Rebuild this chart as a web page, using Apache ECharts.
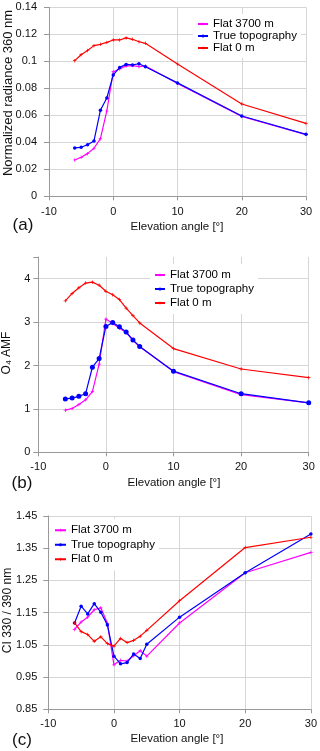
<!DOCTYPE html>
<html><head><meta charset="utf-8">
<script src="https://cdn.jsdelivr.net/npm/echarts@6/dist/echarts.min.js"></script>
<style>html,body{margin:0;padding:0;background:#fff}#c{width:320px;height:751px}</style>
</head><body><div id="c"></div>
<script>
// ---- data ----
const elevation = [-6,-5,-4,-3,-2,-1,0,1,2,3,4,5,10,20,30];
const seriesNames = ['Flat 3700 m','True topography','Flat 0 m'];
const xTicks = [-10, 0, 10, 20, 30];

const radFlat3700 = [0.0269,0.0289,0.0316,0.0356,0.0427,0.0632,0.0923,0.0943,0.0965,0.0968,0.0960,0.0965,0.0835,0.0592,0.0457];
const radTrueTopo = [0.0358,0.0363,0.0382,0.0410,0.0637,0.0728,0.0899,0.0955,0.0977,0.0973,0.0982,0.0960,0.0840,0.0595,0.0459];
const radFlat0    = [0.1005,0.1049,0.1080,0.1116,0.1126,0.1140,0.1158,0.1158,0.1173,0.1163,0.1145,0.1133,0.0980,0.0684,0.0540];

const amfFlat3700 = [0.97,1.01,1.10,1.21,1.40,2.03,3.07,2.97,2.86,2.76,2.58,2.43,1.86,1.33,1.14];
const amfTrueTopo = [1.23,1.25,1.29,1.35,1.96,2.16,2.90,2.99,2.89,2.77,2.59,2.44,1.87,1.35,1.14];
const amfFlat0    = [3.49,3.66,3.79,3.90,3.92,3.85,3.71,3.63,3.52,3.32,3.15,2.98,2.39,1.92,1.72];

const ciFlat3700 = [1.098,1.121,1.136,1.159,1.165,1.117,0.988,1.002,1.000,1.016,1.032,1.015,1.118,1.274,1.337];
const ciTrueTopo = [1.118,1.170,1.146,1.178,1.151,1.112,1.015,0.991,0.995,1.022,1.008,1.052,1.136,1.274,1.394];
const ciFlat0    = [1.118,1.091,1.082,1.061,1.075,1.054,1.046,1.070,1.057,1.064,1.077,1.095,1.187,1.352,1.384];

const radTicks = [0,0.02,0.04,0.06,0.08,0.1,0.12,0.14];
const amfTicks = [0,1,2,3,4];
const ciTicks = [0.85,0.95,1.05,1.15,1.25,1.35,1.45];

// ---- chart ----
const FONT = '"Liberation Sans", Arial, sans-serif';
const AXIS = '#999';
const GRIDC = '#d6d6d6';
const colors = ['#ff00ff','#0000ff','#ff0000'];
const plus = 'path://M0,2 L5,2 L5,3 L0,3 Z M2,0 L3,0 L3,5 L2,5 Z';

function pairs(ys){ return elevation.map((x,i)=>[x, ys[i]]); }

function xAx(gi, margin){
  return {gridIndex:gi, type:'value', min:xTicks[0], max:xTicks[xTicks.length-1], interval:xTicks[1]-xTicks[0],
    axisLine:{show:true,onZero:false,lineStyle:{color:AXIS,width:1}},
    axisTick:{show:true,length:4,lineStyle:{color:AXIS}},
    axisLabel:{margin:margin,fontSize:11,color:'#111',fontFamily:FONT},
    splitLine:{show:true,lineStyle:{color:GRIDC,width:1}}};
}
function yAx(gi, ticks, max, margin, fmt, showMax){
  return {gridIndex:gi, type:'value', min:ticks[0], max:max, interval:+(ticks[1]-ticks[0]).toFixed(4),
    axisLine:{show:true,onZero:false,lineStyle:{color:AXIS,width:1}},
    axisTick:{show:true,length:5,lineStyle:{color:AXIS}},
    axisLabel:{margin:margin,fontSize:11,color:'#111',fontFamily:FONT,formatter:fmt},
    splitLine:{show:true,showMaxLine:showMax,lineStyle:{color:GRIDC,width:1}}};
}

const panels = [
  {data:[radFlat3700,radTrueTopo,radFlat0], blueSize:3.5},
  {data:[amfFlat3700,amfTrueTopo,amfFlat0], blueSize:5},
  {data:[ciFlat3700,ciTrueTopo,ciFlat0], blueSize:3.5}
];
const series = [];
panels.forEach((p,gi)=>{
  p.data.forEach((ys,si)=>{
    series.push({
      name:seriesNames[si], type:'line', xAxisIndex:gi, yAxisIndex:gi,
      data:pairs(ys),
      symbol: si===1 ? 'circle' : plus,
      symbolSize: si===1 ? p.blueSize : 3.5,
      showSymbol:true,
      lineStyle:{color:colors[si],width:1.2},
      itemStyle:{color:colors[si]},
      animation:false, z: 2+si
    });
  });
});

function legend(left, top, itemWidth, lh){
  return {data:seriesNames, orient:'vertical', left:left, top:top, itemWidth:itemWidth, itemHeight:4, itemGap:0,
    backgroundColor:'#fff', padding:4, selectedMode:false,
    textStyle:{fontSize:11.5, lineHeight:lh, color:'#000', fontFamily:FONT}};
}

function txt(x,y,text,size,rot){
  return {type:'text', x:x, y:y, rotation:rot||0, z:100,
    style:{text:text, fill:'#111', font: size+'px '+FONT, fontSize:size, fontFamily:FONT,
      align:'center', verticalAlign:'middle', textAlign:'center', textVerticalAlign:'middle'}};
}

const option = {
  animation:false,
  backgroundColor:'#fff',
  textStyle:{fontFamily:FONT},
  grid:[
    {left:49, right:14, top:7.3, height:189},
    {left:38.3, right:11.3, top:257, height:195.3},
    {left:48.3, right:8.7, top:516, height:193.3}
  ],
  xAxis:[xAx(0,10), xAx(1,9), xAx(2,9)],
  yAxis:[
    yAx(0, radTicks, radTicks[radTicks.length-1], 12, v=>String(+v.toFixed(2)), true),
    yAx(1, amfTicks, 4.5, 8, v=>(Math.abs(v-Math.round(v))<1e-9 ? String(Math.round(v)) : ''), false),
    yAx(2, ciTicks, ciTicks[ciTicks.length-1], 11, v=>v.toFixed(2), true)
  ],
  legend:[legend(193,14,10,12), legend(150,264,10,14), legend(50,519,11,14.5)],
  series:series,
  graphic:[
    txt(177,227,'Elevation angle [°]',11.5),
    txt(8,93,'Normalized radiance 360 nm',13,Math.PI/2),
    txt(23,225,'(a)',17),
    txt(174,483,'Elevation angle [°]',11.5),
    txt(7,353,'O₄ AMF',12,Math.PI/2),
    txt(22,483,'(b)',17),
    txt(177,739,'Elevation angle [°]',11.5),
    txt(8,610.5,'CI 330 / 390 nm',12,Math.PI/2),
    txt(22,740,'(c)',17)
  ]
};
const chart = echarts.init(document.getElementById('c'), null, {renderer:'canvas'});
chart.setOption(option);
</script>
</body></html>
